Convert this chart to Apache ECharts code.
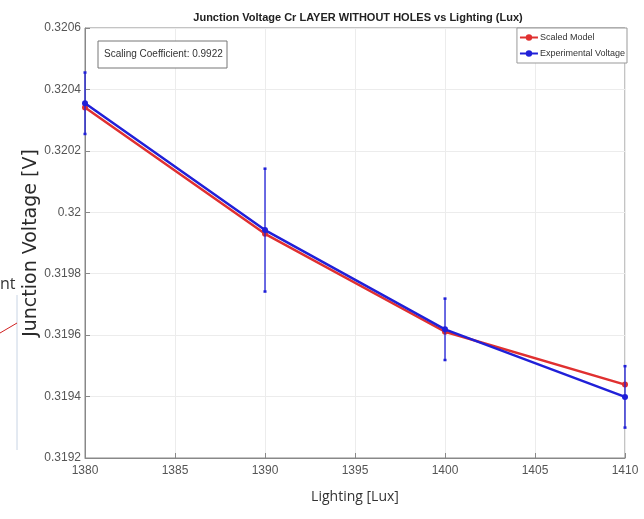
<!DOCTYPE html>
<html>
<head>
<meta charset="utf-8">
<script src="https://cdn.jsdelivr.net/npm/echarts@6/dist/echarts.min.js"></script>
<style>html,body{margin:0;padding:0;background:#fff}#c{width:644px;height:519px}</style>
</head>
<body>
<div id="c"></div>
<script>
const lux = [1380, 1390, 1400, 1410];
const scaledModel = [0.320341, 0.319930, 0.319611, 0.319439];
const experimental = [0.320355, 0.319942, 0.319619, 0.319399];
const expError = [0.0001, 0.0002, 0.0001, 0.0001];
const xTicks = [1380, 1385, 1390, 1395, 1400, 1405, 1410];
const yTicks = [0.3192, 0.3194, 0.3196, 0.3198, 0.32, 0.3202, 0.3204, 0.3206];

const narrow = '"Liberation Sans", Arial, sans-serif';
const chart = echarts.init(document.getElementById('c'));
const errData = lux.map((x, i) => [x, experimental[i] - expError[i], experimental[i] + expError[i]]);

chart.setOption({
  animation: false,
  backgroundColor: '#fff',
  title: {
    text: 'Junction Voltage Cr LAYER WITHOUT HOLES vs Lighting (Lux)',
    left: 353, top: 7, textAlign: 'center',
    textStyle: { fontFamily: narrow, fontWeight: 'bold', fontSize: 11, color: '#222' }
  },
  legend: {
    right: 17, top: 28, orient: 'vertical',
    data: ['Scaled Model', 'Experimental Voltage'],
    backgroundColor: '#fff', borderColor: '#999', borderWidth: 1,
    padding: [5, 2, 5, 2], itemGap: 7, itemWidth: 18, itemHeight: 8,
    textStyle: { fontFamily: narrow, fontSize: 9, color: '#333', padding: [0, 0, 0, -3] }
  },
  grid: { left: 85, right: 19, top: 28, bottom: 61, show: true, borderColor: '#888', borderWidth: 1 },
  xAxis: {
    type: 'value', min: xTicks[0], max: xTicks[xTicks.length - 1], interval: 5,
    name: 'Lighting [Lux]', nameLocation: 'middle', nameGap: 32, nameMoveOverlap: false,
    nameTextStyle: { fontFamily: '"Open Sans", sans-serif', fontSize: 14, color: '#333' },
    axisLine: { lineStyle: { color: '#888' } },
    axisTick: { inside: true, length: 5, lineStyle: { color: '#888' } },
    axisLabel: { fontFamily: narrow, fontSize: 12, color: '#555', margin: 7,
      formatter: v => String(v) },
    splitLine: { show: true, lineStyle: { color: '#ececec' } }
  },
  yAxis: {
    type: 'value', min: yTicks[0], max: yTicks[yTicks.length - 1], interval: 0.0002,
    name: 'Junction Voltage [V]', nameLocation: 'middle', nameGap: 44, nameMoveOverlap: false,
    nameTextStyle: { fontFamily: '"DejaVu Sans", sans-serif', fontSize: 19, color: '#2a2a2a' },
    axisLine: { lineStyle: { color: '#888' } },
    axisTick: { inside: true, length: 5, lineStyle: { color: '#888' } },
    axisLabel: { fontFamily: narrow, fontSize: 12, color: '#555', margin: 4,
      formatter: v => String(parseFloat(v.toFixed(4))) },
    splitLine: { show: true, lineStyle: { color: '#ececec' } }
  },
  series: [
    {
      name: 'Scaled Model', type: 'line',
      data: lux.map((x, i) => [x, scaledModel[i]]),
      color: '#e03030', lineStyle: { width: 2.5, color: '#e03030' },
      symbol: 'circle', symbolSize: 6, itemStyle: { color: '#e03030' }, z: 3
    },
    {
      name: 'Experimental Voltage', type: 'line',
      data: lux.map((x, i) => [x, experimental[i]]),
      color: '#2020d8', lineStyle: { width: 2.5, color: '#2020d8' },
      symbol: 'circle', symbolSize: 6, itemStyle: { color: '#2020d8' }, z: 4
    },
    {
      name: 'errors', type: 'custom', data: errData, z: 5, clip: false,
      renderItem: (params, api) => {
        const x = api.value(0);
        const lo = api.coord([x, api.value(1)]);
        const hi = api.coord([x, api.value(2)]);
        const c = 1.5;
        const st = { stroke: '#2020d8', lineWidth: 1.3 };
        return { type: 'group', children: [
          { type: 'line', shape: { x1: lo[0], y1: lo[1], x2: hi[0], y2: hi[1] }, style: st },
          { type: 'line', shape: { x1: lo[0] - c, y1: lo[1], x2: lo[0] + c, y2: lo[1] }, style: { stroke: '#2020d8', lineWidth: 2.5 } },
          { type: 'line', shape: { x1: hi[0] - c, y1: hi[1], x2: hi[0] + c, y2: hi[1] }, style: { stroke: '#2020d8', lineWidth: 2.5 } }
        ]};
      }
    }
  ],
  graphic: [
    { type: 'rect', shape: { x: 98, y: 41, width: 129, height: 27 },
      style: { fill: '#fff', stroke: '#777', lineWidth: 1 }, z: 10 },
    { type: 'text', x: 104, y: 49, z: 11,
      style: { text: 'Scaling Coefficient: 0.9922', fontFamily: narrow, fontSize: 10, fill: '#333' } },
    { type: 'text', x: 0, y: 276, z: 11,
      style: { text: 'nt', fontFamily: '"Open Sans", sans-serif', fontSize: 16, fill: '#333' } },
    { type: 'line', shape: { x1: 17, y1: 295, x2: 17, y2: 450 }, style: { stroke: '#c8d4e4', lineWidth: 1 } },
    { type: 'line', shape: { x1: 0, y1: 333, x2: 17, y2: 323 }, style: { stroke: '#d02020', lineWidth: 1 } }
  ]
});
</script>
</body>
</html>
